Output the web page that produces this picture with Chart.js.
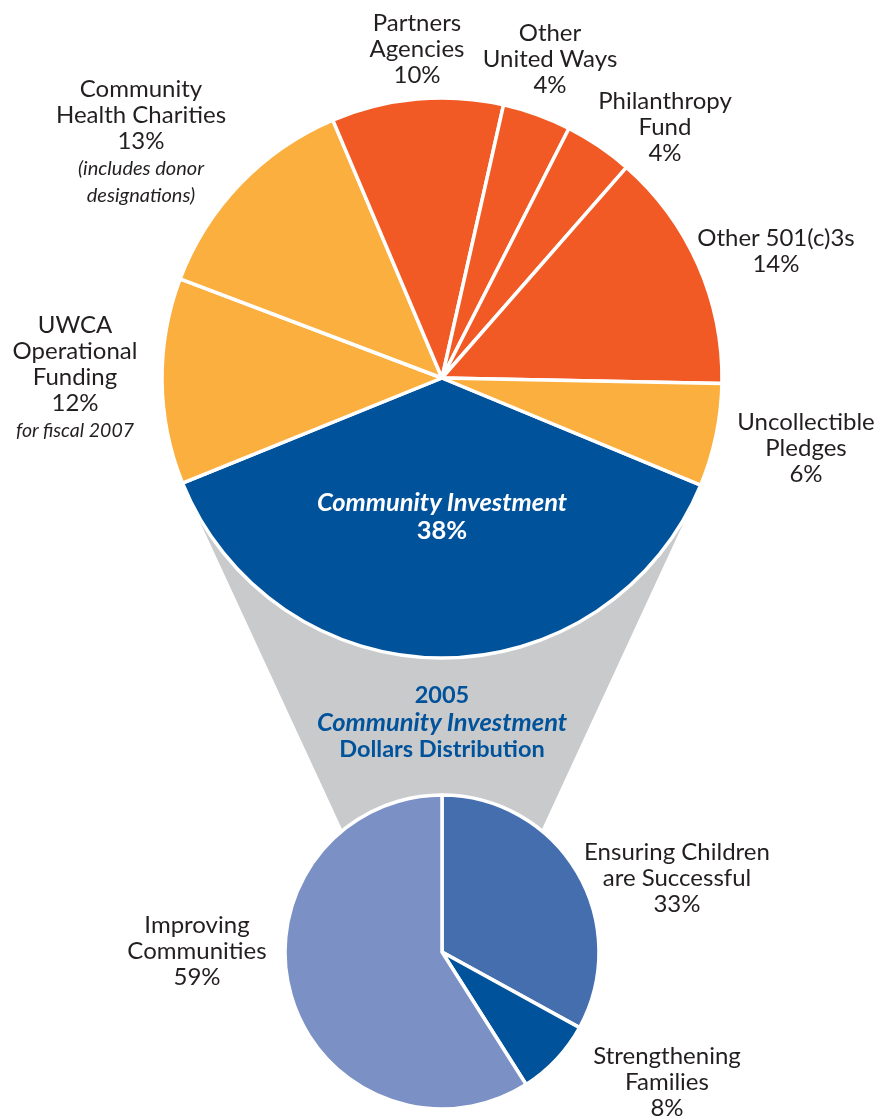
<!DOCTYPE html>
<html>
<head>
<meta charset="utf-8">
<script src="https://cdn.jsdelivr.net/npm/chart.js@4/dist/chart.umd.min.js"></script>
<style>
  html, body { margin: 0; padding: 0; background: #ffffff; }
  #wrap { position: relative; width: 882px; height: 1119px; overflow: hidden; font-family: Lato, "Noto Sans", sans-serif; }
  canvas.layer { position: absolute; left: 0; top: 0; }
  .lbl { position: absolute; transform: translateX(-50%); text-align: center; color: #231F20; font-size: 24px; line-height: 26px; white-space: nowrap; }
  .lbl .it { font-style: italic; font-size: 20px; }
  .lbl .it2 { font-style: italic; font-size: 19.5px; }
  .inv { color: #ffffff; font-weight: bold; font-size: 25.5px; line-height: 28px; }
  .ttl { color: #00529B; font-weight: bold; font-size: 23.5px; line-height: 26.5px; }
  .ttl i { font-size: 25.5px; }
</style>
</head>
<body>
<div id="wrap">
  <canvas id="small" class="layer" width="882" height="1119"></canvas>
  <canvas id="big" class="layer" width="882" height="1119"></canvas>
  <div id="labels"></div>
</div>
<script>
// ---- data ----
const bigCategories = ["Community Investment", "UWCA Operational Funding", "Community Health Charities", "Partners Agencies", "Other United Ways", "Philanthropy Fund", "Other 501(c)3s", "Uncollectible Pledges"];
const bigValues = [38, 12, 13, 10, 4, 4, 14, 6];
const bigColors = ["#00529B", "#FBAF3F", "#FBAF3F", "#F15A24", "#F15A24", "#F15A24", "#F15A24", "#FBAF3F"];

const smallCategories = ["Ensuring Children are Successful", "Strengthening Families", "Improving Communities"];
const smallValues = [33, 8, 59];
const smallColors = ["#456EAF", "#00529B", "#7B91C5"];

// label texts
const labelSpecs = [
  { x: 141, y: 75, html: "Community<br>Health Charities<br>13%<br><span class='it'>(includes donor<br>designations)</span>" },
  { x: 417, y: 9, html: "Partners<br>Agencies<br>10%" },
  { x: 550, y: 19, html: "Other<br>United Ways<br>4%" },
  { x: 665, y: 87, html: "Philanthropy<br>Fund<br>4%" },
  { x: 776, y: 224, html: "Other 501(c)3s<br>14%" },
  { x: 806, y: 408, html: "Uncollectible<br>Pledges<br>6%" },
  { x: 75, y: 311, html: "UWCA<br>Operational<br>Funding<br>12%<br><span class='it2'>for fiscal 2007</span>" },
  { x: 442, y: 487, cls: "inv", html: "<i>Community Investment</i><br>38%" },
  { x: 442, y: 681, cls: "ttl", html: "2005<br><i>Community Investment</i><br>Dollars Distribution" },
  { x: 677, y: 838, html: "Ensuring Children<br>are Successful<br>33%" },
  { x: 197, y: 911, html: "Improving<br>Communities<br>59%" },
  { x: 667, y: 1042, html: "Strengthening<br>Families<br>8%" }
];

const labelsEl = document.getElementById('labels');
labelSpecs.forEach(s => {
  const d = document.createElement('div');
  d.className = 'lbl' + (s.cls ? ' ' + s.cls : '');
  d.style.left = s.x + 'px';
  d.style.top = s.y + 'px';
  d.innerHTML = s.html;
  labelsEl.appendChild(d);
});

const common = {
  responsive: false,
  animation: false,
  plugins: { legend: { display: false }, tooltip: { enabled: false } },
  events: []
};

// big pie: centre (442,378), radius 280
const bigChart = new Chart(document.getElementById('big'), {
  type: 'pie',
  data: {
    labels: bigCategories,
    datasets: [{ data: bigValues, backgroundColor: bigColors, borderColor: "#ffffff", borderWidth: 3.5 }]
  },
  options: Object.assign({}, common, {
    rotation: 112.5,
    radius: 280,
    layout: { padding: { left: 162, right: 160, top: 98, bottom: 461 } }
  })
});

// funnel plugin, drawn beneath the small pie, tangent to the big pie
const funnelPlugin = {
  id: 'funnel',
  beforeDatasetsDraw(chart) {
    const bigArc = bigChart.getDatasetMeta(0).data[0];
    const smallArc = chart.getDatasetMeta(0).data[0];
    const cx = bigArc.x, cy = bigArc.y, R = bigArc.outerRadius;
    const sy = smallArc.y;
    const a1 = 24.8 * Math.PI / 180, a2 = 155.2 * Math.PI / 180;
    const tR = { x: cx + R * Math.cos(a1), y: cy + R * Math.sin(a1) };
    const tL = { x: cx + R * Math.cos(a2), y: cy + R * Math.sin(a2) };
    const dR = { x: -Math.sin(a1), y: Math.cos(a1) };
    const dL = { x: Math.sin(a2), y: -Math.cos(a2) };
    const kR = (sy - tR.y) / dR.y, kL = (sy - tL.y) / dL.y;
    const ctx = chart.ctx;
    ctx.save();
    ctx.fillStyle = "#C9CACC";
    ctx.beginPath();
    ctx.moveTo(tL.x, tL.y);
    ctx.lineTo(cx, cy);
    ctx.lineTo(tR.x, tR.y);
    ctx.lineTo(tR.x + kR * dR.x, sy);
    ctx.lineTo(tL.x + kL * dL.x, sy);
    ctx.closePath();
    ctx.fill();
    ctx.restore();
  }
};

// small pie: centre (442,952), radius 157
const smallChart = new Chart(document.getElementById('small'), {
  type: 'pie',
  data: {
    labels: smallCategories,
    datasets: [{ data: smallValues, backgroundColor: smallColors, borderColor: "#ffffff", borderWidth: 3.5 }]
  },
  options: Object.assign({}, common, {
    rotation: 0,
    radius: 157,
    layout: { padding: { left: 285, right: 283, top: 795, bottom: 10 } }
  }),
  plugins: [funnelPlugin]
});
</script>
</body>
</html>
